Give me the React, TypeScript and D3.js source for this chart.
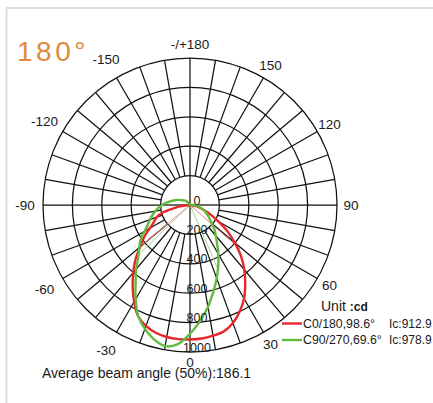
import React from "react";
import * as d3 from "d3";

const ringValues = [200, 400, 600, 800, 1000];
const ringLabels = [0, 200, 400, 600, 800, 1000];
const angleTicks = [180, 150, 120, 90, 60, 30, 0, -30, -60, -90, -120, -150];
const radialAngles = d3.range(-170, 190, 10);
const axisAngles = [0, 90, 180, -90];

const redAngles = [-90, -82, -78, -74, -70, -63, -55, -50, -45, -40, -35, -30, -25, -20, -15, -10, -5, 0, 5, 10, 15, 20, 25, 30, 35, 40, 45, 50, 55, 60, 65, 70, 75, 80, 90];
const redValues = [0, 70, 125, 200, 240, 285, 380, 443, 525, 600, 680, 760, 835, 875, 900, 912, 916, 915, 912, 903, 890, 855, 800, 735, 655, 575, 490, 395, 310, 220, 155, 100, 65, 35, 0];

const greenAngles = [-180, -135, -120, -110, -100, -90, -80, -70, -63, -55, -50, -45, -40, -35, -30, -25, -20, -15, -10, -5, 0, 5, 10, 15, 20, 25, 30, 37, 45, 50, 60, 70, 80, 90, 100];
const greenValues = [0, 40, 66, 100, 138, 190, 240, 290, 330, 410, 450, 497, 570, 645, 740, 833, 897, 946, 975, 950, 876, 791, 704, 612, 530, 455, 385, 300, 235, 193, 140, 97, 60, 25, 0];

const redBeamAngles = [-50, 48.6];
const redBeamValue = 456;
const greenBeamAngles = [-46, 23.6];
const greenBeamValue = 489;

const legendItems = [
  { name: "C0/180,98.6°", ic: "Ic:912.9", color: "#e8262b" },
  { name: "C90/270,69.6°", ic: "Ic:978.9", color: "#62bb3e" },
];

const CX = 190;
const CY = 205;
const R = 147;
const FONT = "'Liberation Sans', Arial, sans-serif";

export default function App() {
  const r = d3.scaleLinear().domain([0, 1000]).range([0, R]);
  const rad = (deg: number) => (deg * Math.PI) / 180;
  const pt = (theta: number, radius: number): [number, number] => [
    CX + radius * Math.sin(rad(theta)),
    CY + radius * Math.cos(rad(theta)),
  ];
  const line = d3
    .lineRadial<[number, number]>()
    .angle((d) => rad(180 - d[0]))
    .radius((d) => r(d[1]))
    .curve(d3.curveCatmullRom.alpha(0.5));

  const red = redAngles.map((a, i) => [a, redValues[i]] as [number, number]);
  const green = greenAngles.map((a, i) => [a, greenValues[i]] as [number, number]);

  return (
    <svg
      width={433}
      height={403}
      style={{ position: "absolute", left: 0, top: 0, background: "#fff" }}
    >
      <rect x={0} y={0} width={433} height={403} fill="#fff" />
      <line x1={6.5} y1={8} x2={6.5} y2={403} stroke="#dcdcdc" strokeWidth={1.8} />
      <line x1={6} y1={8} x2={433} y2={8} stroke="#dcdcdc" strokeWidth={1.8} />

      <text x={17} y={61} fill="#e08a3c" fontFamily={FONT} fontSize={28} letterSpacing={3.5}>
        180°
      </text>

      {ringValues.map((v) => (
        <circle key={v} cx={CX} cy={CY} r={r(v)} fill="none" stroke="#111" strokeWidth={1.25} />
      ))}
      {radialAngles.map((a) => {
        const [x1, y1] = pt(a, r(200));
        const [x2, y2] = pt(a, r(1000));
        return <line key={a} x1={x1} y1={y1} x2={x2} y2={y2} stroke="#111" strokeWidth={1.25} />;
      })}
      {axisAngles.map((a) => {
        const [x2, y2] = pt(a, r(200));
        return <line key={"ax" + a} x1={CX} y1={CY} x2={x2} y2={y2} stroke="#111" strokeWidth={1.25} />;
      })}

      {angleTicks.map((a) => {
        const lr = a === 0 ? 157 : a < 0 && a !== -90 ? 168 : a === -90 ? 165 : 161;
        const [x, y] = pt(a, lr);
        return (
          <text
            key={"t" + a}
            x={x}
            y={y}
            textAnchor="middle"
            dominantBaseline="central"
            fontFamily={FONT}
            fontSize={13.5}
            fill="#1a1a1a"
          >
            {a === 180 ? "-/+180" : String(a)}
          </text>
        );
      })}

      <g transform={`translate(${CX},${CY})`}>
        {redBeamAngles.map((a) => {
          const [x, y] = pt(a, r(redBeamValue));
          return (
            <line key={"rb" + a} x1={0} y1={0} x2={x - CX} y2={y - CY} stroke="#f08a8a" strokeWidth={1} />
          );
        })}
        {greenBeamAngles.map((a) => {
          const [x, y] = pt(a, r(greenBeamValue));
          return (
            <line key={"gb" + a} x1={0} y1={0} x2={x - CX} y2={y - CY} stroke="#9fd88a" strokeWidth={1} />
          );
        })}
        <path d={line(red) || ""} fill="none" stroke="#e8262b" strokeWidth={2.4} />
        <path d={line(green) || ""} fill="none" stroke="#62bb3e" strokeWidth={2.4} />
      </g>

      {ringLabels.map((v) => (
        <text
          key={"rl" + v}
          x={CX + 7}
          y={CY + r(v) - 4.5}
          textAnchor="middle"
          dominantBaseline="central"
          fontFamily={FONT}
          fontSize={12.5}
          fill="#1a1a1a"
        >
          {v}
        </text>
      ))}

      <text x={321} y={311} fontFamily={FONT} fontSize={14} fill="#1a1a1a">
        Unit <tspan fontWeight="bold" fontSize={12}>:cd</tspan>
      </text>
      {legendItems.map((it, i) => (
        <g key={it.name}>
          <line x1={282} x2={302} y1={323.5 + i * 16.5} y2={323.5 + i * 16.5} stroke={it.color} strokeWidth={2.4} />
          <text x={303} y={327.5 + i * 16.5} fontFamily={FONT} fontSize={12.3} fill="#1a1a1a">
            {it.name}
          </text>
          <text x={389} y={327.5 + i * 16.5} fontFamily={FONT} fontSize={12} fill="#1a1a1a">
            {it.ic}
          </text>
        </g>
      ))}

      <text x={42} y={378} fontFamily={FONT} fontSize={14} fill="#1a1a1a">
        Average beam angle (50%):186.1
      </text>
    </svg>
  );
}
